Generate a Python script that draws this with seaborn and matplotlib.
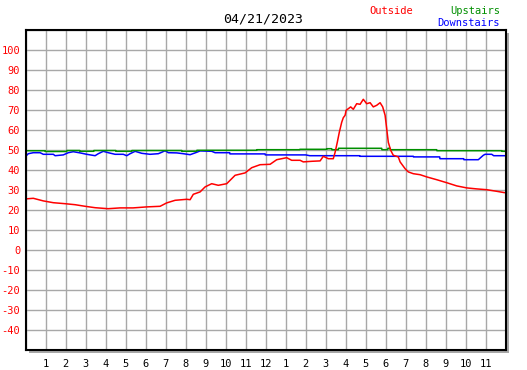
import numpy as np
import pandas as pd
import matplotlib
matplotlib.use('Agg')
import matplotlib.pyplot as plt
from matplotlib.patches import Rectangle
import seaborn as sns

title = '04/21/2023'

# hours since midnight, temperature
out_h = [0.0, 0.38, 0.88, 1.38, 1.97, 2.47, 2.97, 3.47, 4.12, 4.72, 5.37, 6.05, 6.72, 7.05, 7.47,
         8.05, 8.22, 8.38, 8.72, 8.97, 9.3, 9.63, 10.05, 10.47, 10.97, 11.3, 11.72, 12.22, 12.55,
         13.05, 13.3, 13.72, 13.88, 14.3, 14.72, 14.88, 15.13, 15.38, 15.47, 15.58, 15.68, 15.8,
         15.88, 15.97, 16.02, 16.13, 16.25, 16.38, 16.55, 16.72, 16.88, 17.05, 17.22, 17.38, 17.55,
         17.72, 17.85, 17.97, 18.05, 18.13, 18.25, 18.38, 18.63, 18.72, 18.97, 19.13, 19.38, 19.72,
         20.05, 20.55, 21.05, 21.55, 22.05, 22.55, 23.05, 23.55, 23.95]
out_t = [25.7, 26.0, 24.7, 23.8, 23.3, 22.8, 22.0, 21.3, 20.8, 21.2, 21.2, 21.7, 22.0, 23.7, 25.0,
         25.5, 25.3, 28.0, 29.2, 31.7, 33.3, 32.5, 33.3, 37.5, 38.7, 41.3, 42.8, 43.0, 45.3,
         46.3, 45.0, 45.0, 44.2, 44.5, 44.7, 47.0, 45.8, 45.8, 49.0, 54.0, 59.0, 64.0,
         66.3, 67.5, 70.0, 70.8, 71.7, 70.5, 73.3, 73.0, 75.5, 73.3, 73.8, 71.7, 72.5,
         73.8, 71.7, 67.5, 60.8, 54.0, 50.0, 47.5, 46.7, 44.2, 40.8, 39.2, 38.3, 37.8,
         36.7, 35.3, 33.8, 32.2, 31.2, 30.7, 30.3, 29.5, 28.8]

up_h = [0.0, 0.97, 0.98, 2.05, 2.06, 2.7, 2.71, 3.4, 3.41, 4.5, 4.51, 5.3, 5.31, 7.8, 7.81,
        8.55, 8.56, 11.55, 11.56, 13.7, 13.71, 15.05, 15.06, 15.3, 15.31, 15.63, 15.64, 17.8,
        17.81, 18.1, 18.11, 18.22, 18.23, 20.55, 20.56, 23.8, 23.81, 24.0]
up_t = [49.8, 49.8, 49.4, 49.4, 49.9, 49.9, 49.5, 49.5, 49.9, 49.9, 49.5, 49.5, 49.9, 49.9, 49.5,
        49.5, 50.0, 50.0, 50.3, 50.3, 50.5, 50.5, 50.8, 50.8, 50.3, 50.3, 51.0, 51.0,
        50.3, 50.3, 51.0, 51.0, 50.3, 50.3, 49.8, 49.8, 49.5, 49.5]

down_h = [0.0, 0.13, 0.38, 0.72, 0.88, 1.38, 1.47, 1.88, 2.13, 2.38, 2.72, 3.05, 3.47, 3.63, 3.88,
          4.13, 4.47, 4.88, 5.05, 5.22, 5.47, 5.8, 6.22, 6.63, 6.8, 6.97, 7.13, 7.55, 7.88, 8.22,
          8.55, 8.72, 9.3, 9.47, 10.2, 10.21, 11.97, 11.98, 14.0, 14.2, 16.7, 16.71, 19.38,
          19.39, 20.7, 20.71, 21.9, 21.91, 22.63, 22.88, 22.97, 23.3, 23.4, 24.0]
down_t = [47.0, 48.3, 48.8, 48.8, 48.0, 48.0, 47.3, 47.7, 48.8, 49.3, 48.7, 48.0, 47.3, 48.3, 49.5,
          48.8, 48.0, 48.0, 47.3, 48.3, 49.5, 48.5, 48.0, 48.3, 49.0, 49.8, 48.8, 48.7, 48.3, 47.8,
          49.0, 49.7, 49.5, 48.8, 48.8, 48.2, 48.2, 47.7, 47.7, 47.3, 47.3, 47.0, 47.0,
          46.7, 46.7, 45.8, 45.8, 45.3, 45.3, 47.5, 48.0, 48.0, 47.3, 47.3]

hour_grid = list(range(0, 25))
hour_labels = [''] + [str(h) for h in range(1, 13)] + [str(h) for h in range(1, 12)] + ['']
temp_grid = list(range(-50, 111, 10))
temp_labels = [str(t) if -40 <= t <= 100 else '' for t in temp_grid]

sns.set_style('white')
plt.rcParams['font.family'] = ['DejaVu Sans Mono']

W, H = 527, 370
fig = plt.figure(figsize=(W / 100, H / 100), dpi=100)
fig.patch.set_facecolor('white')
x0, x1, ytop, ybot = 25.7, 505.7, 30.3, 350.3
ax = fig.add_axes([x0 / W, 1 - ybot / H, (x1 - x0) / W, (ybot - ytop) / H])
ax.set_facecolor('white')
ax.set_zorder(2)

# drop shadow
fig.patches.append(Rectangle(((x0 + 3) / W, 1 - (ybot + 3) / H), (x1 - x0) / W, (ybot - ytop) / H,
                             transform=fig.transFigure, facecolor='#a8a8a8', edgecolor='none', zorder=0))

sns.lineplot(x=down_h, y=down_t, ax=ax, color='#0000ff', lw=1.1, sort=False, estimator=None)
sns.lineplot(x=up_h, y=up_t, ax=ax, color='#008f00', lw=1.1, sort=False, estimator=None)
sns.lineplot(x=out_h, y=out_t, ax=ax, color='#ff0000', lw=1.1, sort=False, estimator=None)

ax.set_xlim(0, 24)
ax.set_ylim(-50, 110)
ax.set_xticks(hour_grid)
ax.set_xticklabels(hour_labels)
ax.set_yticks(temp_grid)
ax.set_yticklabels(temp_labels)
ax.grid(True, color='#a8a8a8', lw=1.0)
ax.set_axisbelow(True)
ax.tick_params(axis='both', direction='in', length=4, width=1, color='black', labelsize=7.5)
ax.tick_params(axis='y', labelcolor='#ff0000', pad=4)
ax.tick_params(axis='x', labelcolor='black', pad=6)
for s in ax.spines.values():
    s.set_color('black')
    s.set_linewidth(1.5)
ax.set_xlabel('')
ax.set_ylabel('')

fig.text(263 / W, 1 - 19 / H, title, ha='center', va='center', fontsize=9.5, color='black')
fig.text(369 / W, 1 - 11 / H, 'Outside', ha='left', va='center', fontsize=7.5, color='#ff0000')
fig.text(500 / W, 1 - 11 / H, 'Upstairs', ha='right', va='center', fontsize=7.5, color='#008f00')
fig.text(500 / W, 1 - 23 / H, 'Downstairs', ha='right', va='center', fontsize=7.5, color='#0000ff')

fig.savefig('out.png', dpi=100, facecolor='white')
